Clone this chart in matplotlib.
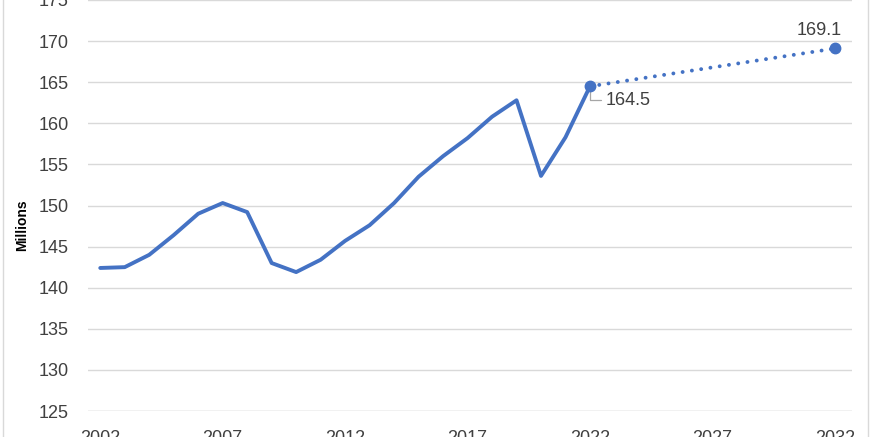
import numpy as np
import matplotlib
matplotlib.use('Agg')
import matplotlib.pyplot as plt
from matplotlib.patches import Rectangle

# =============================================================================
# Data (millions of jobs)
# =============================================================================
hist_years  = list(range(2002, 2023))
hist_values = [142.4, 142.5, 144.0, 146.4, 149.0, 150.3, 149.2, 143.0, 141.9,
               143.4, 145.7, 147.6, 150.3, 153.5, 156.0, 158.2, 160.8, 162.8,
               153.6, 158.3, 164.5]
proj_years  = [2022, 2032]
proj_values = [164.5, 169.1]
tick_years  = [2002, 2007, 2012, 2017, 2022, 2027, 2032]
y_ticks     = [125, 130, 135, 140, 145, 150, 155, 160, 165, 170, 175]

blue  = '#4472C4'
grid  = '#d9d9d9'
txt   = '#404040'

plt.rcParams['font.family'] = ['Liberation Sans', 'DejaVu Sans']

fig = plt.figure(figsize=(8.75, 4.37), dpi=100)
ax = fig.add_axes([88 / 875, 26 / 437, 764 / 875, 411 / 437])

ax.plot(hist_years, hist_values, color=blue, lw=2.8, solid_joinstyle='round',
        solid_capstyle='round', zorder=3)
ax.plot(proj_years, proj_values, color=blue, lw=2.8,
        linestyle=(0, (0.01, 2.4)), dash_capstyle='round', zorder=3)
ax.plot(proj_years, proj_values, 'o', color=blue, ms=7.5, zorder=4)

ax.annotate(f'{proj_values[0]:.1f}', xy=(proj_years[0], proj_values[0]),
            xytext=(11, -10), textcoords='offset points',
            ha='left', va='center', fontsize=13, color=txt,
            arrowprops=dict(arrowstyle='-', color='#a6a6a6', lw=0.9,
                            shrinkA=1, shrinkB=3,
                            connectionstyle='angle,angleA=0,angleB=90,rad=0'))
ax.annotate(f'{proj_values[1]:.1f}', xy=(proj_years[1], proj_values[1]),
            xytext=(-11, 13), textcoords='offset points',
            ha='center', va='center', fontsize=13, color=txt)

ax.set_xlim(2001.5, 2032.7)
ax.set_ylim(125, 175)
ax.set_xticks(tick_years)
ax.set_yticks(y_ticks)
ax.tick_params(length=0, labelsize=13, labelcolor=txt, pad=14)
ax.yaxis.grid(True, color=grid, lw=1)
ax.set_axisbelow(True)
for s in ax.spines.values():
    s.set_visible(False)
ax.axhline(125, color=grid, lw=1, zorder=1)

fig.text(22 / 875, 1 - 225 / 437, 'Millions', rotation=90, fontsize=10,
         fontweight='bold', ha='center', va='center', color='black')

# light chart border
fig.patches.append(Rectangle((3 / 875, -0.1), 865 / 875, 1.2,
                             transform=fig.transFigure, fill=False,
                             edgecolor=grid, lw=1))

fig.savefig('out.png', dpi=100)
